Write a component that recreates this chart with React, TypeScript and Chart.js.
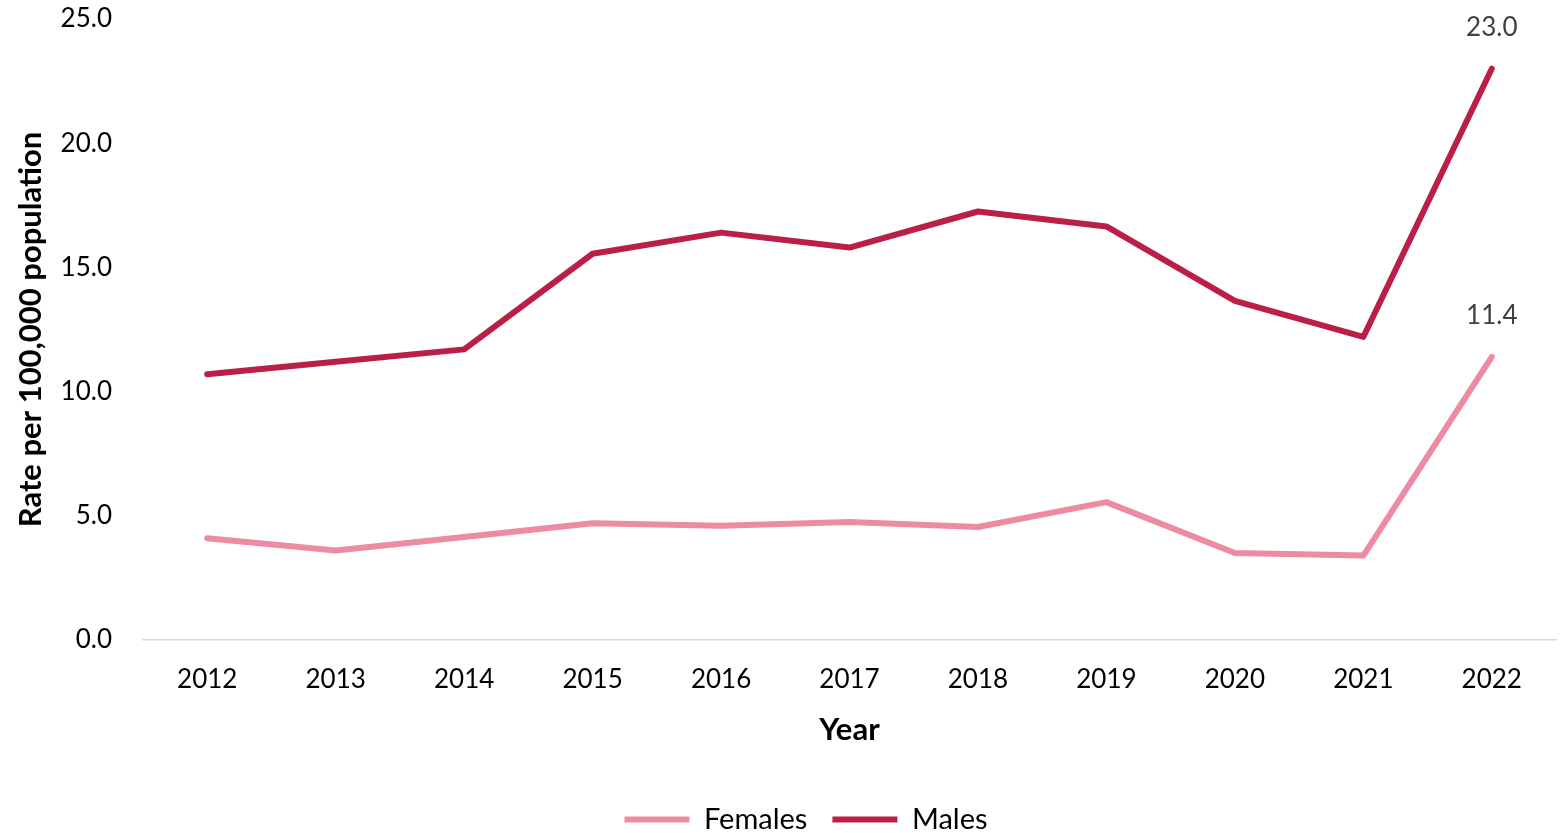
import React, { useEffect, useRef } from "react";
import { Chart, registerables } from "chart.js";

Chart.register(...registerables);

const years = ["2012", "2013", "2014", "2015", "2016", "2017", "2018", "2019", "2020", "2021", "2022"];
const females = [4.1, 3.6, 4.15, 4.7, 4.6, 4.75, 4.55, 5.55, 3.5, 3.4, 11.4];
const males = [10.7, 11.2, 11.7, 15.55, 16.4, 15.8, 17.25, 16.65, 13.65, 12.2, 23.0];
const seriesNames = ["Females", "Males"];
const yTicks = [0, 5, 10, 15, 20, 25];

const FONT = "Lato, 'Open Sans', sans-serif";

const lastLabelPlugin = {
  id: "lastLabel",
  afterDatasetsDraw(chart: any) {
    const ctx = chart.ctx;
    ctx.save();
    ctx.font = `26px ${FONT}`;
    ctx.fillStyle = "#404040";
    ctx.textAlign = "center";
    ctx.textBaseline = "middle";
    chart.data.datasets.forEach((ds: any, i: number) => {
      const meta = chart.getDatasetMeta(i);
      const n = ds.data.length - 1;
      const pt = meta.data[n];
      ctx.fillText(Number(ds.data[n]).toFixed(1), pt.x, pt.y - 41);
    });
    ctx.restore();
  },
};

const legendShiftPlugin = {
  id: "legendShift",
  afterLayout(chart: any) {
    const l = chart.legend;
    if (l) {
      l.left += 28;
      l.right += 28;
    }
  },
};

export default function App() {
  const ref = useRef<HTMLCanvasElement | null>(null);
  useEffect(() => {
    document.body.style.margin = "0";
    const chart = new Chart(ref.current as HTMLCanvasElement, {
      type: "line",
      data: {
        labels: years,
        datasets: [
          {
            label: seriesNames[0],
            data: females,
            borderColor: "#EC8BA2",
            backgroundColor: "#EC8BA2",
            borderWidth: 6,
            borderCapStyle: "round",
            borderJoinStyle: "round",
            pointRadius: 0,
            tension: 0,
          },
          {
            label: seriesNames[1],
            data: males,
            borderColor: "#BB1F47",
            backgroundColor: "#BB1F47",
            borderWidth: 6,
            borderCapStyle: "round",
            borderJoinStyle: "round",
            pointRadius: 0,
            tension: 0,
          },
        ],
      },
      options: {
        animation: false,
        responsive: false,
        layout: { padding: { top: 19, right: 4, left: 0, bottom: -11 } },
        plugins: {
          tooltip: { enabled: false },
          legend: {
            position: "bottom",
            labels: {
              usePointStyle: true,
              pointStyle: "line",
              pointStyleWidth: 65,
              padding: 25,
              color: "#000",
              font: { family: FONT, size: 29 },
            },
          },
        },
        scales: {
          x: {
            offset: true,
            grid: { display: false, drawTicks: false },
            border: { display: true, color: "#D9D9D9", width: 1.5 },
            ticks: { color: "#000", padding: 24, font: { family: FONT, size: 26 } },
            title: {
              display: true,
              text: "Year",
              color: "#000",
              font: { family: FONT, size: 31, weight: "bold" },
              padding: { top: 10, bottom: 31 },
            },
            afterFit(scale: any) {
              scale.height = 140;
            },
          },
          y: {
            min: 0,
            max: 25,
            afterBuildTicks(scale: any) {
              scale.ticks = yTicks.map((v) => ({ value: v }));
            },
            grid: { display: false, drawTicks: false },
            border: { display: false },
            ticks: {
              color: "#000",
              padding: 31,
              font: { family: FONT, size: 26 },
              callback: (v: any) => Number(v).toFixed(1),
            },
            title: {
              display: true,
              text: "Rate per 100,000 population",
              color: "#000",
              font: { family: FONT, size: 31, weight: "bold" },
              padding: { top: 12, bottom: 0 },
            },
            afterFit(scale: any) {
              scale.width = 143;
              scale.paddingTop = 0;
              scale.paddingBottom = 0;
            },
          },
        },
      },
      plugins: [lastLabelPlugin, legendShiftPlugin],
    } as any);
    return () => chart.destroy();
  }, []);
  return (
    <div style={{ position: "relative", width: 1560, height: 833 }}>
      <canvas ref={ref} width={1560} height={833} style={{ display: "block" }} />
    </div>
  );
}
